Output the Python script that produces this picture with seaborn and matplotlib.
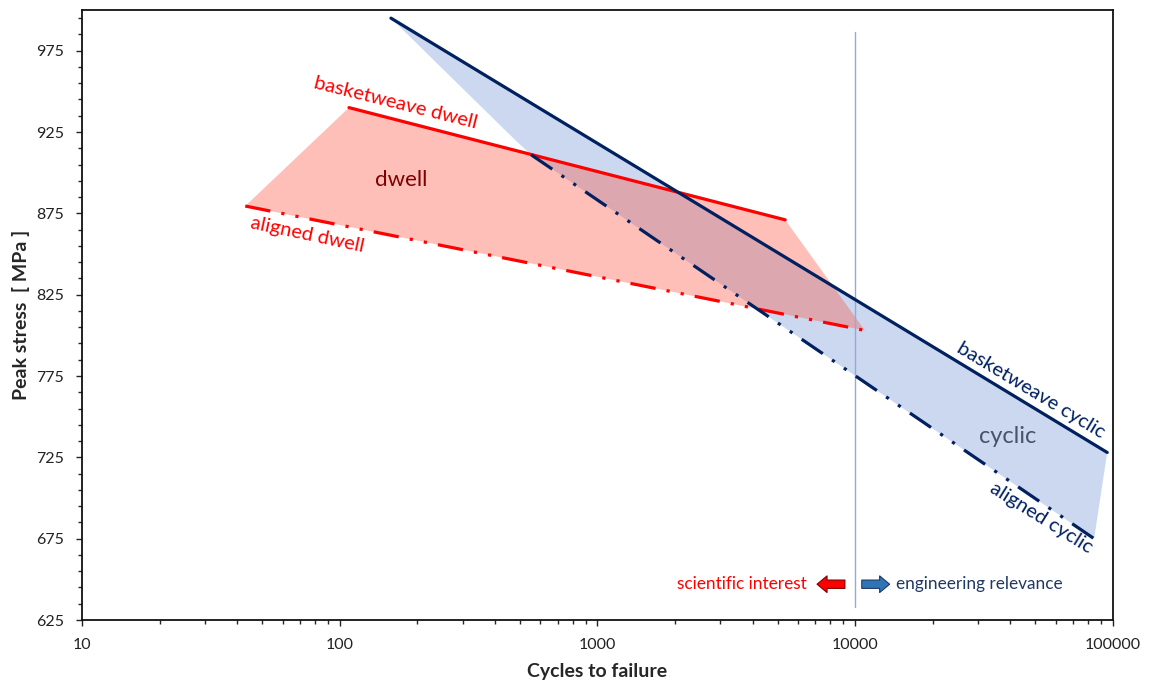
import numpy as np
import seaborn as sns
import matplotlib.pyplot as plt

# cycles to failure / peak stress (MPa)
bw_cyclic_x = [158, 95000]
bw_cyclic_y = [995, 728]
al_cyclic_x = [553, 84500]
al_cyclic_y = [911, 675]
cyclic_fill_x = [158, 95000, 84500, 553, 480]
cyclic_fill_y = [995, 728, 675, 911, 920]

bw_dwell_x = [108.6, 5350]
bw_dwell_y = [940, 871]
al_dwell_x = [43, 10900]
al_dwell_y = [879.5, 803]
dwell_fill_x = [43, 108.6, 5350, 10900]
dwell_fill_y = [879.5, 940, 871, 803]

split_x = 10000
split_y = [633, 986.5]

yticks = [625, 675, 725, 775, 825, 875, 925, 975]
xticks = [10, 100, 1000, 10000, 100000]

navy = '#002060'
red = '#ff0000'
dashdotdot = (0, (8, 3.5, 1, 3.5, 1, 3.5))

sns.set_theme(style='ticks')
plt.rcParams['font.family'] = ['Lato', 'DejaVu Sans']

fig = plt.figure(figsize=(11.5, 6.86), dpi=100)
ax = fig.add_axes([0.0713, 0.0962, 0.8965, 0.8892])

ax.fill(cyclic_fill_x, cyclic_fill_y, color='#cbd8ef', lw=0, zorder=1)
ax.fill(dwell_fill_x, dwell_fill_y, color='#ff503f', alpha=0.36, lw=0, zorder=2)

sns.lineplot(x=bw_cyclic_x, y=bw_cyclic_y, color=navy, lw=2.3, sort=False, estimator=None, ax=ax, zorder=4)
sns.lineplot(x=al_cyclic_x, y=al_cyclic_y, color=navy, lw=2.3, ls=dashdotdot, sort=False, estimator=None, ax=ax, zorder=4)
sns.lineplot(x=bw_dwell_x, y=bw_dwell_y, color=red, lw=2.3, sort=False, estimator=None, ax=ax, zorder=3)
sns.lineplot(x=al_dwell_x, y=al_dwell_y, color=red, lw=2.3, ls=dashdotdot, sort=False, estimator=None, ax=ax, zorder=3)

ax.plot([split_x, split_x], split_y, color='#8faadc', lw=1, zorder=2)

ax.set_xscale('log')
ax.set_xlim(10, 100000)
ax.set_ylim(625, 1000)
ax.set_xticks(xticks)
ax.set_xticklabels([str(v) for v in xticks])
ax.set_yticks(yticks)
ax.set_yticks(np.arange(625, 1000, 10), minor=True)
ax.tick_params(axis='both', which='major', labelsize=11.5, length=4, width=1, pad=9, colors='#222222')
ax.tick_params(axis='both', which='minor', length=3, width=1)
ax.tick_params(axis='x', which='minor', labelbottom=False)
for s in ax.spines.values():
    s.set_color('#111111')
    s.set_linewidth(1.3)

ax.set_xlabel('Cycles to failure', fontsize=14, fontweight='bold', labelpad=8)
ax.set_ylabel('Peak stress  [ MPa ]', fontsize=14, fontweight='bold', labelpad=4)

kw = dict(ha='center', va='center', rotation_mode='anchor', fontsize=14.5)
ax.text(165, 943, 'basketweave dwell', color=red, rotation=-14, **kw)
ax.text(74.6, 862, 'aligned dwell', color=red, rotation=-12, **kw)
ax.text(48200, 766, 'basketweave cyclic', color=navy, rotation=-31, **kw)
ax.text(52700, 688, 'aligned cyclic', color=navy, rotation=-32, **kw)
ax.text(173, 895.5, 'dwell', color='#800000', ha='center', va='center', fontsize=16)
ax.text(38900, 738, 'cyclic', color='#44546a', ha='center', va='center', fontsize=17)

ax.text(6500, 647, 'scientific interest', color=red, ha='right', va='center', fontsize=12.4)
ax.text(14350, 647, 'engineering relevance', color='#1f3864', ha='left', va='center', fontsize=12.4)
arrow = 'simple,head_length=0.6,head_width=1.0,tail_width=0.5'
ax.annotate('', xy=(7110, 647), xytext=(9120, 647),
            arrowprops=dict(arrowstyle=arrow, fc=red, ec='#7f0000', lw=0.8, shrinkA=0, shrinkB=0))
ax.annotate('', xy=(13600, 647), xytext=(10600, 647),
            arrowprops=dict(arrowstyle=arrow, fc='#2e75b6', ec='#1f3864', lw=0.8, shrinkA=0, shrinkB=0))

fig.savefig('out.png', dpi=100)
